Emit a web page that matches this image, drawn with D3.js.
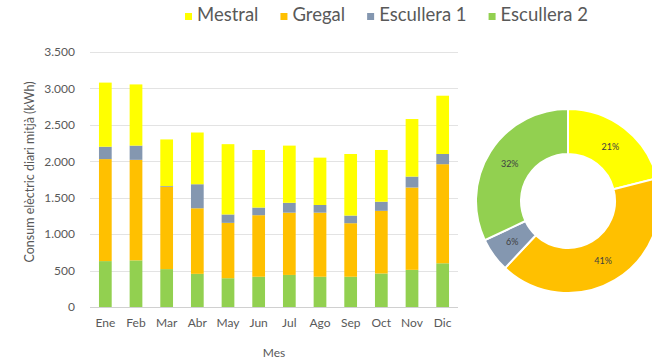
<!DOCTYPE html>
<html>
<head>
<meta charset="utf-8">
<script src="https://cdn.jsdelivr.net/npm/d3@7/dist/d3.min.js"></script>
<style>
  html, body { margin: 0; padding: 0; background: #fff; }
  svg { display: block; font-family: Lato, "Open Sans", sans-serif; }
</style>
</head>
<body>
<svg id="chart" width="652" height="362"></svg>
<script>
// Monthly average daily consumption (kWh) per building
const months = ["Ene", "Feb", "Mar", "Abr", "May", "Jun", "Jul", "Ago", "Sep", "Oct", "Nov", "Dic"];
const seriesNames = ["Mestral", "Gregal", "Escullera 1", "Escullera 2"];
const escullera2 = [630, 640, 520, 455, 395, 415, 440, 415, 415, 460, 510, 600];
const gregal     = [1400, 1380, 1130, 900, 760, 845, 855, 880, 735, 860, 1130, 1360];
const escullera1 = [170, 195, 10, 330, 115, 105, 135, 105, 105, 125, 150, 140];
const mestral    = [880, 840, 640, 710, 965, 790, 785, 650, 845, 710, 790, 800];
// Yearly share per building (%)
const sharePct = [21, 41, 6, 32];
const yTicks = [0, 500, 1000, 1500, 2000, 2500, 3000, 3500];

const colors = {
  "Mestral": "#FFFF00",
  "Gregal": "#FFC000",
  "Escullera 1": "#8497B0",
  "Escullera 2": "#92D050"
};

const svg = d3.select("#chart");
const locale = d3.formatLocale({ decimal: ",", thousands: ".", grouping: [3], currency: ["", "€"] });
const fmt = locale.format(",d");

// ---- stacked bars ----
const rows = months.map((m, i) => ({
  mes: m,
  "Escullera 2": escullera2[i],
  "Gregal": gregal[i],
  "Escullera 1": escullera1[i],
  "Mestral": mestral[i]
}));
const stackOrder = ["Escullera 2", "Gregal", "Escullera 1", "Mestral"];
const stacked = d3.stack().keys(stackOrder)(rows);

const x = d3.scaleBand().domain(months).range([90, 458]).paddingInner(0.585).paddingOuter(0.2925);
const y = d3.scaleLinear().domain([0, 3500]).range([307, 52]);

// gridlines
svg.append("g").selectAll("line").data(yTicks.filter(d => d > 0)).join("line")
  .attr("x1", 90).attr("x2", 458)
  .attr("y1", d => Math.round(y(d)) + 0.5).attr("y2", d => Math.round(y(d)) + 0.5)
  .attr("stroke", "#e3e3e3").attr("stroke-width", 1);

svg.append("g").selectAll("g").data(stacked).join("g")
  .attr("fill", d => colors[d.key])
  .selectAll("rect").data(d => d).join("rect")
  .attr("x", d => x(d.data.mes))
  .attr("width", x.bandwidth())
  .attr("y", d => y(d[1]))
  .attr("height", d => y(d[0]) - y(d[1]));

// baseline
svg.append("line").attr("x1", 90).attr("x2", 458)
  .attr("y1", Math.round(y(0)) + 0.5).attr("y2", Math.round(y(0)) + 0.5)
  .attr("stroke", "#d0d0d0");

// y axis labels
const yAxis = d3.axisLeft(y).tickValues(yTicks).tickFormat(fmt).tickSize(0).tickPadding(0);
const gy = svg.append("g").attr("transform", "translate(75,0)").call(yAxis);
gy.select(".domain").remove();
gy.selectAll("text").attr("fill", "#595959").attr("font-size", 12).attr("font-family", "Lato, sans-serif");

// x axis labels
const xAxis = d3.axisBottom(x).tickSize(0).tickPadding(0);
const gx = svg.append("g").attr("transform", "translate(0,318)").call(xAxis);
gx.select(".domain").remove();
gx.selectAll("text").attr("fill", "#595959").attr("font-size", 12).attr("font-family", "Lato, sans-serif");

// axis titles
svg.append("text").attr("x", 274).attr("y", 357).attr("text-anchor", "middle")
  .attr("fill", "#595959").attr("font-size", 12).text("Mes");
svg.append("text").attr("transform", "translate(34,172) rotate(-90)").attr("text-anchor", "middle")
  .attr("fill", "#595959").attr("font-size", 12.5).text("Consum elèctric diari mitjà  (kWh)");

// ---- legend ----
const legend = svg.append("g");
let lx = 185;
seriesNames.forEach(name => {
  legend.append("rect").attr("x", lx).attr("y", 13).attr("width", 7).attr("height", 7).attr("fill", colors[name]);
  const t = legend.append("text").attr("x", lx + 12).attr("y", 21)
    .attr("fill", "#595959").attr("font-size", 18.5).text(name);
  lx += 12 + t.node().getComputedTextLength() + 22;
});

// ---- donut ----
const pieData = seriesNames.map((n, i) => ({ name: n, value: sharePct[i] }));
const pie = d3.pie().value(d => d.value).sort(null);
const arc = d3.arc().innerRadius(47).outerRadius(92);
const labelArc = d3.arc().innerRadius(69).outerRadius(69);
const donut = svg.append("g").attr("transform", "translate(568,201)");
const arcs = pie(pieData);
donut.selectAll("path").data(arcs).join("path")
  .attr("d", arc)
  .attr("fill", d => colors[d.data.name])
  .attr("stroke", "#fff").attr("stroke-width", 2);
donut.selectAll("text").data(arcs).join("text")
  .attr("transform", d => `translate(${labelArc.centroid(d)})`)
  .attr("text-anchor", "middle").attr("dy", "0.35em")
  .attr("fill", "#404040").attr("font-size", 9)
  .text(d => d.data.value + "%");
</script>
</body>
</html>
